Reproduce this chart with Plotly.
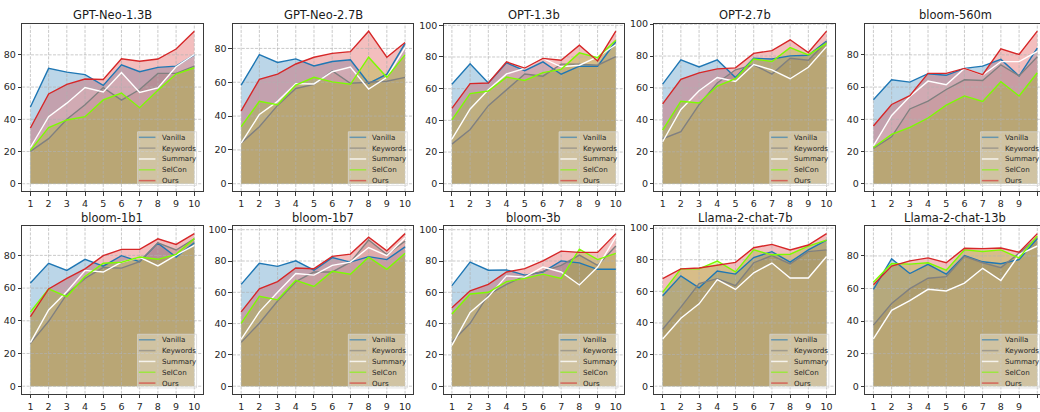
import plotly.graph_objects as go

x_vals = list(range(1, 11))
models = ["GPT-Neo-1.3B", "GPT-Neo-2.7B", "OPT-1.3b", "OPT-2.7b", "bloom-560m",
          "bloom-1b1", "bloom-1b7", "bloom-3b", "Llama-2-chat-7b", "Llama-2-chat-13b"]
methods = ["Vanilla", "Keywords", "Summary", "SelCon", "Ours"]

vanilla = [
    [47.6, 71.6, 69.3, 67.7, 61.0, 73.8, 69.5, 72.2, 73.0, 80.0],
    [58.3, 76.3, 71.7, 73.8, 69.6, 72.3, 73.3, 59.4, 64.8, 83.0],
    [62.8, 75.7, 63.6, 76.3, 71.4, 76.9, 69.1, 74.2, 74.2, 89.8],
    [62.4, 77.6, 73.2, 77.6, 66.6, 78.6, 78.2, 80.1, 80.5, 89.4],
    [52.1, 64.5, 63.1, 68.3, 67.3, 71.6, 73.0, 77.2, 66.9, 84.2],
    [63.1, 75.2, 70.8, 77.6, 73.4, 79.8, 76.2, 87.5, 79.0, 87.7],
    [65.1, 78.6, 76.6, 80.1, 74.1, 82.2, 79.3, 82.8, 80.9, 89.0],
    [64.3, 79.3, 74.1, 74.3, 71.0, 73.0, 80.1, 78.8, 74.7, 74.7],
    [57.2, 69.8, 62.2, 72.9, 70.9, 81.4, 85.1, 78.5, 86.2, 92.4],
    [59.5, 78.2, 69.2, 74.8, 68.8, 80.2, 76.4, 75.2, 77.8, 90.7],
]
keywords = [
    [20.1, 28.0, 40.0, 49.0, 59.7, 51.9, 58.5, 68.5, 68.5, 73.0],
    [24.0, 33.7, 46.3, 56.3, 58.7, 66.7, 59.4, 59.8, 60.6, 62.9],
    [25.0, 34.2, 49.3, 59.3, 69.3, 67.9, 75.5, 75.5, 74.8, 80.2],
    [28.2, 32.6, 49.6, 63.1, 71.4, 74.5, 68.7, 78.6, 77.4, 89.0],
    [21.9, 29.1, 46.4, 51.3, 58.5, 64.5, 64.1, 73.8, 66.9, 78.8],
    [26.2, 39.7, 56.3, 65.9, 72.6, 72.2, 76.2, 87.7, 83.3, 90.1],
    [28.0, 40.2, 54.4, 66.8, 73.0, 73.0, 79.3, 93.4, 84.2, 92.7],
    [28.2, 40.2, 58.5, 65.1, 70.5, 73.4, 77.2, 83.8, 77.2, 89.6],
    [36.0, 50.0, 64.9, 68.0, 63.6, 78.1, 82.6, 77.3, 85.1, 86.2],
    [37.5, 50.8, 59.9, 66.3, 67.3, 79.8, 75.8, 72.8, 81.7, 91.3],
]
summary = [
    [22.5, 41.6, 50.0, 59.7, 57.0, 69.0, 56.7, 59.5, 72.6, 80.2],
    [24.0, 41.0, 48.7, 59.2, 59.0, 66.2, 69.0, 56.0, 62.9, 80.6],
    [28.2, 47.2, 59.3, 69.3, 72.8, 79.1, 73.8, 74.8, 80.0, 87.7],
    [26.3, 46.5, 58.3, 66.6, 64.1, 74.7, 71.4, 65.8, 73.0, 85.9],
    [23.5, 42.4, 54.1, 63.7, 61.5, 71.6, 67.5, 75.8, 75.8, 82.2],
    [26.6, 46.6, 57.9, 70.8, 69.8, 75.8, 78.8, 73.6, 80.2, 86.1],
    [29.9, 47.5, 60.0, 72.0, 71.0, 77.2, 79.3, 88.6, 83.4, 94.8],
    [26.1, 47.1, 57.1, 70.5, 69.7, 76.1, 73.0, 64.7, 76.1, 95.4],
    [29.8, 43.0, 52.1, 67.4, 61.2, 71.7, 77.9, 68.4, 68.4, 82.0],
    [29.0, 46.6, 52.6, 59.5, 58.5, 63.3, 72.4, 64.9, 80.8, 86.1],
]
selcon = [
    [20.7, 34.8, 39.6, 41.6, 52.0, 56.3, 47.2, 58.0, 68.1, 72.0],
    [33.8, 48.7, 46.7, 58.3, 62.9, 60.2, 58.8, 74.8, 62.9, 76.2],
    [40.3, 56.9, 58.5, 67.3, 65.2, 70.1, 72.2, 82.6, 79.6, 90.6],
    [33.6, 51.7, 50.6, 61.2, 65.8, 78.2, 76.6, 85.3, 80.7, 88.0],
    [22.5, 30.6, 35.0, 40.8, 48.8, 54.5, 51.1, 63.3, 54.5, 68.9],
    [45.4, 59.5, 54.8, 67.1, 75.2, 75.8, 79.0, 77.6, 80.6, 90.3],
    [40.2, 57.5, 55.2, 67.6, 63.7, 73.4, 71.6, 82.4, 74.7, 84.9],
    [46.1, 58.9, 60.0, 66.8, 68.9, 71.6, 68.9, 87.6, 80.9, 84.9],
    [59.3, 74.2, 74.2, 79.1, 72.3, 86.2, 83.1, 83.5, 88.6, 92.4],
    [63.9, 75.4, 75.0, 75.8, 71.2, 83.7, 82.7, 83.7, 78.8, 92.3],
]
ours = [
    [34.6, 55.7, 61.7, 65.0, 64.7, 77.6, 76.0, 77.4, 83.6, 94.7],
    [43.1, 61.7, 64.8, 70.8, 74.8, 77.1, 78.1, 90.2, 74.8, 83.5],
    [47.6, 63.2, 63.6, 76.9, 73.0, 79.1, 77.9, 87.5, 77.5, 96.3],
    [50.0, 65.4, 69.5, 72.0, 72.6, 81.7, 83.4, 90.2, 82.2, 95.6],
    [35.8, 49.2, 54.7, 68.5, 68.5, 71.6, 67.7, 83.8, 80.2, 94.7],
    [42.5, 59.5, 65.9, 71.8, 79.8, 83.7, 83.7, 90.1, 86.7, 93.3],
    [47.5, 62.2, 66.8, 75.5, 75.1, 83.0, 84.4, 95.2, 86.5, 97.5],
    [50.2, 61.0, 65.1, 73.0, 75.1, 80.1, 86.3, 85.5, 85.5, 97.5],
    [68.0, 74.2, 74.8, 76.7, 78.3, 87.6, 89.7, 86.2, 89.3, 96.5],
    [62.3, 73.8, 77.0, 78.8, 75.8, 84.7, 84.5, 84.9, 82.3, 93.7],
]
y_ticks = [0, 20, 40, 60, 80, 100]

series = [vanilla, keywords, summary, selcon, ours]
line_rgb = [(31, 119, 180), (128, 128, 128), (255, 255, 255), (124, 252, 0), (214, 39, 40)]

W, H = 1040, 412
AX_W, AX_H = 180.3, 172.0
col_left = [22.2 + 210.75 * c for c in range(5)]
row_top = [19.0, 226.5]
X_LO, X_HI = 0.55, 10.45
FONT = "DejaVu Sans"

fig = go.Figure()
layout = {}
shapes = []
annotations = []

for i, model in enumerate(models):
    r, c = divmod(i, 5)
    n = "" if i == 0 else str(i + 1)
    xa, ya = "x" + n, "y" + n
    left = col_left[c]
    right = left + AX_W
    x_hi = X_HI
    if right > W:
        x_hi = X_LO + (W - left) / (AX_W / (X_HI - X_LO))
        right = W
    top = row_top[r]
    bottom = top + AX_H
    vmax = max(max(s[i]) for s in series)
    y_lo, y_hi = -0.05 * vmax, 1.05 * vmax

    # fills
    for s, rgb in zip(series, line_rgb):
        fig.add_trace(go.Scatter(
            x=x_vals, y=s[i], mode="none", fill="tozeroy",
            fillcolor="rgba(%d,%d,%d,0.3)" % rgb, xaxis=xa, yaxis=ya,
            showlegend=False, hoverinfo="skip"))
    # grid (above fills, below lines)
    gx, gy = [], []
    for t in x_vals:
        gx += [t, t, None]
        gy += [y_lo, y_hi, None]
    for t in y_ticks:
        if y_lo <= t <= y_hi:
            gx += [X_LO, X_HI, None]
            gy += [t, t, None]
    fig.add_trace(go.Scatter(
        x=gx, y=gy, mode="lines", xaxis=xa, yaxis=ya,
        line=dict(color="rgba(176,176,176,0.85)", width=0.8, dash="3px,1.4px"),
        showlegend=False, hoverinfo="skip"))
    # lines
    for name, s, rgb in zip(methods, series, line_rgb):
        fig.add_trace(go.Scatter(
            x=x_vals, y=s[i], mode="lines", name=name,
            line=dict(color="rgb(%d,%d,%d)" % rgb, width=1.4),
            xaxis=xa, yaxis=ya, showlegend=False))

    axis_common = dict(showline=True, linecolor="#3a3a3a", linewidth=1,
                       ticks="outside", ticklen=3.5, tickwidth=0.8, tickcolor="#3a3a3a",
                       showgrid=False, zeroline=False,
                       tickfont=dict(family=FONT, size=9.5, color="#262626"))
    layout["xaxis" + n] = dict(axis_common, domain=[left / W, right / W],
                               range=[X_LO, x_hi], tickmode="array", tickvals=x_vals,
                               anchor=ya, mirror=True)
    layout["yaxis" + n] = dict(axis_common, domain=[(H - bottom) / H, (H - top) / H],
                               range=[y_lo, y_hi], tickmode="array", tickvals=y_ticks,
                               anchor=xa, mirror=(c < 4))

    # title
    annotations.append(dict(text=model, x=(left + AX_W / 2) / W, y=(H - (top - 8.3)) / H,
                            xref="paper", yref="paper", showarrow=False,
                            xanchor="center", yanchor="middle",
                            font=dict(family=FONT, size=11.5, color="#1a1a1a")))

    # legend box (drawn inside each axes, lower right)
    def px(fx):
        return (left + fx * AX_W) / W

    def py(fy):
        return (H - (bottom - fy * AX_H)) / H

    shapes.append(dict(type="rect", xref="paper", yref="paper",
                       x0=px(0.64), x1=px(0.967), y0=py(0.035), y1=py(0.355),
                       fillcolor="rgba(255,255,255,0.33)",
                       line=dict(color="rgba(215,215,215,0.9)", width=0.8),
                       layer="above"))
    for k, (name, rgb) in enumerate(zip(methods, line_rgb)):
        fy = 0.322 - 0.0645 * k
        alpha = 0.6 if k != 2 else 0.8
        shapes.append(dict(type="line", xref="paper", yref="paper",
                           x0=px(0.647), x1=px(0.739), y0=py(fy), y1=py(fy),
                           line=dict(color="rgba(%d,%d,%d,%.2f)" % (rgb + (alpha,)), width=1.5),
                           layer="above"))
        annotations.append(dict(text=name, x=px(0.762), y=py(fy), xref="paper", yref="paper",
                                showarrow=False, xanchor="left", yanchor="middle",
                                font=dict(family=FONT, size=7.1, color="#262626")))

fig.update_layout(**layout)
fig.update_layout(
    width=W, height=H, margin=dict(l=0, r=0, t=0, b=0),
    plot_bgcolor="white", paper_bgcolor="white",
    shapes=shapes, annotations=annotations, showlegend=False,
)
fig.write_html("out.html", config={"displayModeBar": False},
               post_script="document.body.style.margin='0px';"
                           "document.body.style.overflow='hidden';")
